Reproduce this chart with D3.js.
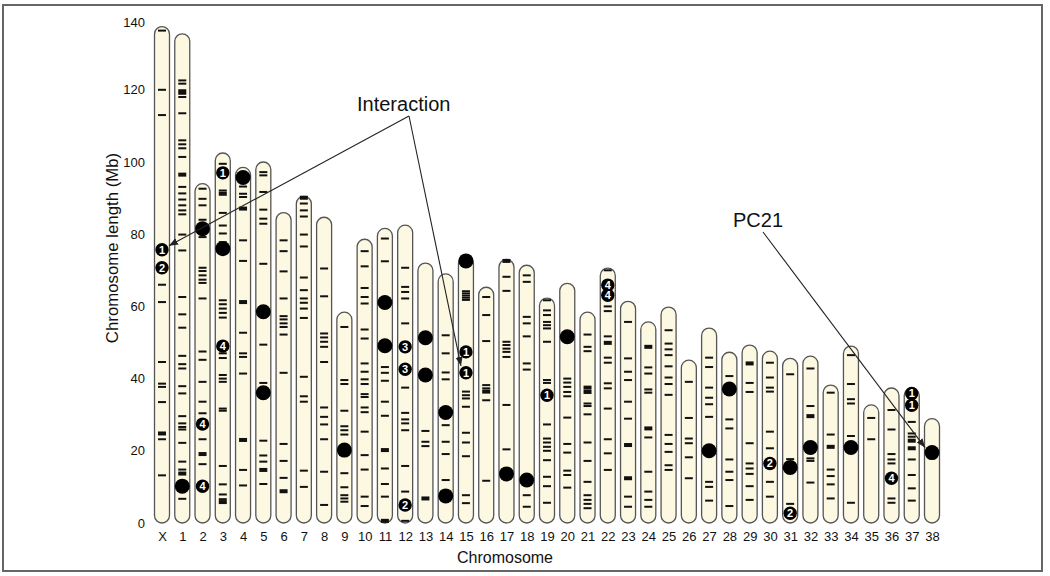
<!DOCTYPE html>
<html>
<head>
<meta charset="utf-8">
<script src="https://cdn.jsdelivr.net/npm/d3@7"></script>
<style>
  body { margin: 0; background: #fff; }
  svg text { font-family: "Liberation Sans", Arial, Helvetica, sans-serif; }
</style>
</head>
<body>
<svg id="chart"></svg>
<script>
// chromosome names and lengths (Mb)
var chromosomes = ["X","1","2","3","4","5","6","7","8","9","10","11","12","13","14","15","16","17","18","19",
  "20","21","22","23","24","25","26","27","28","29","30","31","32","33","34","35","36","37","38"];
var lengths = [137.5,135.5,94,102.5,98.5,100,86,90.5,84.7,58.4,78.6,81.6,82.5,72,69,74,65.3,73,71.4,62.3,
  66.4,58.4,70.6,61.4,55.7,59.8,45.1,54,47.3,49.3,47.6,45.6,46.2,38.2,49,32.7,37.4,37.4,28.9];

// marker positions (Mb), thin and thick marks, one list per chromosome
var markers = [
  [136.4,120,113,66,61.2,44.6,38.6,37.7,33.5,23.2,13.2],
  [122.6,121.7,118.9,118,113.5,106,104.9,103.8,101.4,93.1,91.3,89.6,88,86.6,85.5,79.9,75.5,62.6,57.8,54.1,46.3,44,42.8,37.9,35.9,29.6,27.6,26.6,25.9,22.2,17,14.8,6.7],
  [92.6,89.8,88,84,79.2,70.7,69.8,68.6,67.4,66.5,62.2,47.5,45.2,39.1,33.6,30.4,23.2,16.3],
  [99.5,92.1,85.9,82.4,80.2,77.8,61.7,60.6,59.4,58.2,56.9,47,45.7,41,40,39.1,31.7,31.1,15.8,10.7,7.9,6.6],
  [93.2,91.2,90.3,78.3,72.6,52.7,47,46,41.4,14.7,10.4],
  [97.2,96.3,91.7,86.8,84.3,82.9,71.8,49.4,38.8,22.8,18.7,17,10.8],
  [78.3,75.3,69.7,62.2,57.3,56.4,55.3,54.3,52.2,41.6,21.9,17.2,12.5],
  [88.5,86.6,84.9,79.9,76.6,68,64.5,62.2,61,59.4,56.8,40.5,35.1,33.6,14.5,10],
  [70.5,62.8,52.5,51.4,50.2,48.8,44.6,32,29.4,27.3,23.2,14.2,5],
  [54.3,39.6,38.5,31.1,26.8,25.7,24.5,13.8,9.9,7.7,6.8,5.9],
  [75.3,71.1,65.1,62.6,60.8,53.6,51.1,44.2,41.9,39.8,38.5,35.7,34.9,32,30.7,25.3,18.8,14.8,7.3,4.7],
  [78.8,72.5,43.2,41.6,39.4,33.6,29.7,15.1,10.8,7.3],
  [70.7,65.4,64,62.2,55.3,37.5,30.5,28.7,27.6,25.7,15.8,8.7,0.6],
  [25.5,22.5,21.3],
  [52,47,41.7,39.8,27.1,22.5,19.1,11.9],
  [64.2,63.6,63,62.4,61.8,36.4,35.4,34.5,32.2,25,22.3,18.5,7.7,5.5],
  [62.6,57.6,50.4,38.2,37.3,34,11.7],
  [68.2,64.3,50.2,49.3,48.3,47.4,46,32.7,20.4],
  [68.6,66.8,57.1,55.3,51.7,44.2,42.5,7.7,4.5],
  [61.7,58.9,57.6,55.7,54.8,53.9,50.2,39.6,38.8,27.3,23.4,22.3,21.1,20,17.4,12.8,10.2,5.6],
  [40,38.9,37.7,36.3,35.1,29.2,21.9,19.5,14.5,13.3,9.8],
  [52.2,48.8,47.6,33.1,32.4,30.1,22.3,17.2,11.4,7.7,6.4,5.3,4.1],
  [70,60,58.7,51.7,45.8,44.4,38.7,37.3,31.7,23.2,19.3,14.7],
  [55.7,45.6,41.9,39.6,33.6,28.9,7.3,4.5],
  [43.1,41.4,37,36.1,23.7,14.2,8.7,6.4,4.5],
  [53.4,49.7,48.1,46.5,43.4,40.3,38.5,35.5,24.4,21.9,19.7,16,14.7],
  [39.1,29.1,23.4,22.1,18.2,12.4],
  [45.8,43.2,37.5,34.7,32.9,29.4,11.4,10,6.2],
  [40.7,28.7,26.2,17.6,14.2,11.9,4.7],
  [38.8,36.3,22.1,16.5,15.1,13.6,10.2,6.4],
  [44.4,40.3,37.5,36.4,25.3,20.7,11.4,7.3],
  [41.2,17.7,5.3],
  [42.8,32.4,17.9,17.2,11.2],
  [36.1,24.5,14.8,13,10.7,6.8],
  [46.5,38.5,34.3,33.1,24.1,5.6],
  [29.1,23.2],
  [31.3,25.9,19.1,17.6,16.5,6.8,5.6],
  [28,24.8,23.9,17.6,13.3,9.6,6.2],
  []
];
var thickMarkers = [
  [24.8],[119.6,96.5,13.7],[19.1],[91.2,5.8],[87.1,61.2,23],[14.7],[8.8],[90.1],[],[],
  [],[20.2,0.6],[],[6.8],[],[],[36.4],[72.6],[],[],
  [],[37.5,36.3],[49.9],[21.6,12.4],[48.8,26.2],[],[],[],[],[44.2],
  [],[],[29.6],[21.1],[],[],[],[22.8,20.7],[]
];

// QTL dots: chromosome, position (Mb), label ("" = large plain dot)
var dotChrom = ["1","2","3","4","5","5","9","11","11","13","13","14","14","15","17","18","20","27","28","31","32","34","38",
  "X","X","2","2","3","3","12","12","12","15","15","19","22","22","30","31","36","37","37"];
var dotPos = [10.2,81.5,76,95.7,58.5,36.1,20.2,61.1,49.1,51.3,41,30.6,7.5,72.6,13.6,11.9,51.6,20,37.1,15.4,20.9,20.9,19.5,
  75.7,70.7,27.4,10.2,97,49,48.8,42.6,5,47.4,41.6,35.4,65.9,63.1,16.5,2.7,12.4,35.9,32.6];
var dotLabel = ["","","","","","","","","","","","","","","","","","","","","","","",
  "1","2","4","4","1","4","3","3","2","1","1","1","4","4","2","2","4","1","1"];

var yTicks = [0,20,40,60,80,100,120,140];

var width = 1050, height = 576;
var svg = d3.select("#chart").attr("width", width).attr("height", height);

var x = d3.scalePoint().domain(chromosomes).range([162, 932]);
var y = d3.scaleLinear().domain([0, 140]).range([523, 17.6]);
var chrW = 15;

svg.append("rect")
  .attr("x", 3).attr("y", 5).attr("width", 1039).attr("height", 566)
  .attr("fill", "none").attr("stroke", "#666").attr("stroke-width", 2);

// chromosomes
svg.selectAll(".chr")
  .data(chromosomes)
  .enter().append("rect")
  .attr("class", "chr")
  .attr("x", d => x(d) - chrW / 2)
  .attr("y", (d, i) => y(lengths[i]))
  .attr("width", chrW)
  .attr("height", (d, i) => y(0) - y(lengths[i]))
  .attr("rx", chrW / 2)
  .attr("fill", "#fdf8e2")
  .attr("stroke", "#555")
  .attr("stroke-width", 1.3);

// markers
var thin = [], thick = [];
chromosomes.forEach(function(c, i) {
  markers[i].forEach(p => thin.push({c: c, p: p}));
  thickMarkers[i].forEach(p => thick.push({c: c, p: p}));
});
svg.selectAll(".mk")
  .data(thin)
  .enter().append("rect")
  .attr("x", d => x(d.c) - 4)
  .attr("y", d => y(d.p) - 1)
  .attr("width", 8).attr("height", 2)
  .attr("fill", "#111");
svg.selectAll(".mkt")
  .data(thick)
  .enter().append("rect")
  .attr("x", d => x(d.c) - 4)
  .attr("y", d => y(d.p) - 2)
  .attr("width", 8).attr("height", 4)
  .attr("fill", "#111");

// dots
var dots = dotChrom.map((c, i) => ({c: c, p: dotPos[i], l: dotLabel[i]}));
svg.selectAll(".dot")
  .data(dots)
  .enter().append("circle")
  .attr("cx", d => x(d.c))
  .attr("cy", d => y(d.p))
  .attr("r", d => d.l ? 6.7 : 7.5)
  .attr("fill", "#000");
svg.selectAll(".dotlab")
  .data(dots.filter(d => d.l))
  .enter().append("text")
  .attr("x", d => x(d.c))
  .attr("y", d => y(d.p) + 3.9)
  .attr("text-anchor", "middle")
  .attr("font-size", 11)
  .attr("font-weight", "bold")
  .attr("fill", "#fff")
  .text(d => d.l);

// axes
var yAxis = svg.append("g")
  .attr("transform", "translate(148,0)")
  .call(d3.axisLeft(y).tickValues(yTicks).tickSize(0).tickPadding(3));
yAxis.select(".domain").remove();
yAxis.selectAll("text").attr("font-size", 13).attr("fill", "#111")
  .attr("font-family", "Liberation Sans, Arial, sans-serif");
yAxis.selectAll(".tick").filter(d => d === 140).select("text").attr("dy", "0.72em");

var xAxis = svg.append("g")
  .attr("transform", "translate(0,523)")
  .call(d3.axisBottom(x).tickSize(0).tickPadding(9));
xAxis.select(".domain").remove();
xAxis.selectAll("text").attr("font-size", 13).attr("fill", "#111")
  .attr("font-family", "Liberation Sans, Arial, sans-serif");

svg.append("text")
  .attr("x", 505).attr("y", 563)
  .attr("text-anchor", "middle")
  .attr("font-size", 16)
  .attr("fill", "#111")
  .text("Chromosome");
svg.append("text")
  .attr("transform", "translate(118,248) rotate(-90)")
  .attr("text-anchor", "middle")
  .attr("font-size", 16.8)
  .attr("fill", "#111")
  .text("Chromosome length (Mb)");

// annotations
var defs = svg.append("defs");
defs.append("marker")
  .attr("id", "arrow")
  .attr("viewBox", "0 0 10 10")
  .attr("refX", 10).attr("refY", 5)
  .attr("markerWidth", 9).attr("markerHeight", 9)
  .attr("markerUnits", "userSpaceOnUse")
  .attr("orient", "auto")
  .append("path").attr("d", "M0,1 L10,5 L0,9 Z").attr("fill", "#222");

function arrow(x1, y1, x2, y2) {
  svg.append("line")
    .attr("x1", x1).attr("y1", y1).attr("x2", x2).attr("y2", y2)
    .attr("stroke", "#222").attr("stroke-width", 1.1)
    .attr("marker-end", "url(#arrow)");
}

svg.append("text").attr("x", 357).attr("y", 111).attr("font-size", 20).attr("fill", "#111").text("Interaction");
arrow(409, 116, x("X") + 7, y(75.7) - 4);
arrow(409, 116, x("15") - 5, y(41.6) - 7);

svg.append("text").attr("x", 733).attr("y", 227).attr("font-size", 20).attr("fill", "#111").text("PC21");
arrow(763, 232, x("38") - 7, y(19.5) - 5);
</script>
</body>
</html>
